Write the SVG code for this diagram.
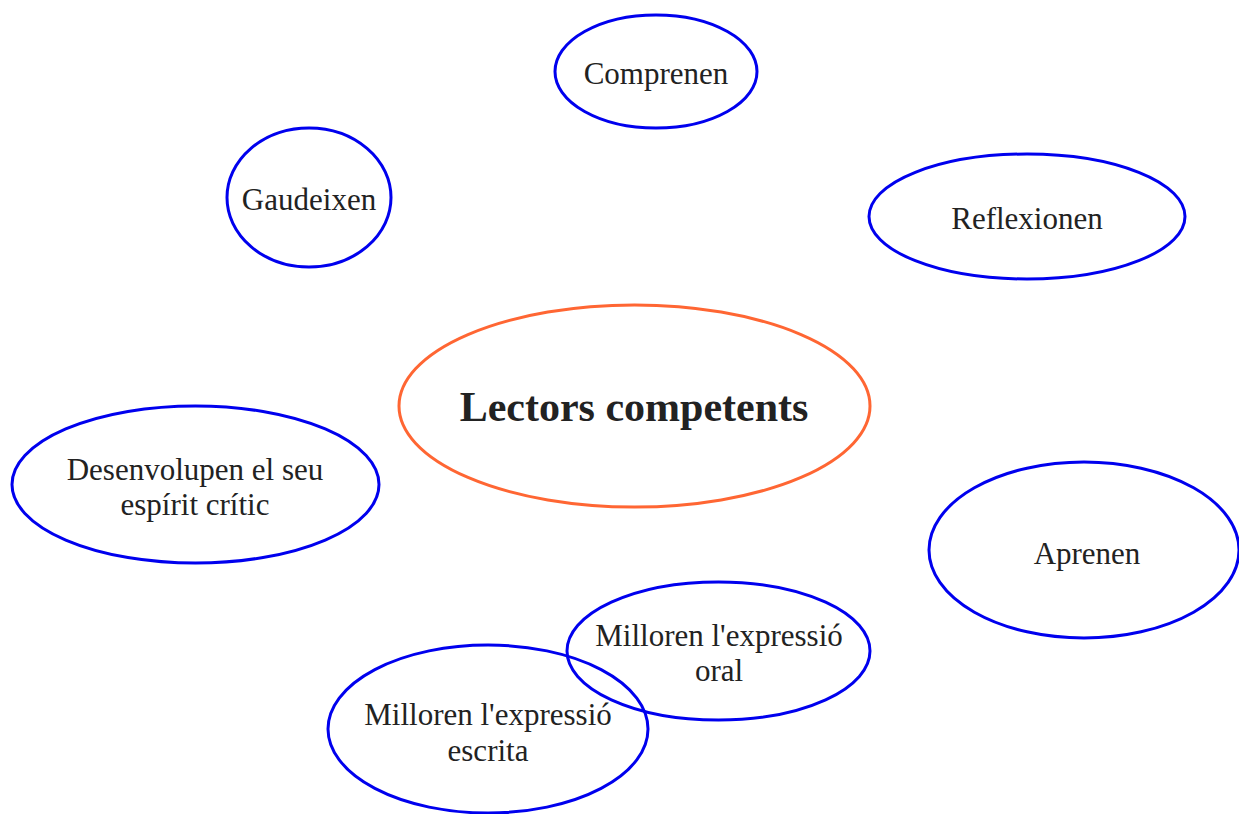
<svg xmlns="http://www.w3.org/2000/svg" width="1239" height="814" viewBox="0 0 1239 814">
<style>
.n{fill:none;stroke:#0000ee;stroke-width:3}
.c{fill:none;stroke:#ff6633;stroke-width:3}
text{font-family:"Liberation Serif","Times New Roman",serif;font-size:31px;fill:#222;text-anchor:middle}
.b{font-size:42px;font-weight:bold}
</style>
<rect width="1239" height="814" fill="#fff"/>
<g id="connectors"></g>
<g id="center"><ellipse class="c" cx="634.5" cy="406" rx="235.5" ry="101"/><text class="b" x="634" y="421">Lectors competents</text></g>
<g id="comprenen"><ellipse class="n" cx="656" cy="71.5" rx="101" ry="56.5"/><text x="656" y="84">Comprenen</text></g>
<g id="gaudeixen"><ellipse class="n" cx="309" cy="197.5" rx="82" ry="69.5"/><text x="309" y="210">Gaudeixen</text></g>
<g id="reflexionen"><ellipse class="n" cx="1027" cy="216.5" rx="158" ry="62.5"/><text x="1027" y="229">Reflexionen</text></g>
<g id="desenvolupen"><ellipse class="n" cx="195.5" cy="484.5" rx="183.5" ry="78.5"/><text x="195" y="480">Desenvolupen el seu</text><text x="195" y="515">espírit crític</text></g>
<g id="aprenen"><ellipse class="n" cx="1084" cy="550" rx="155" ry="88"/><text x="1087" y="564">Aprenen</text></g>
<g id="oral"><ellipse class="n" cx="718.5" cy="651" rx="151.5" ry="69"/><text x="719" y="646">Milloren l'expressió</text><text x="719" y="681">oral</text></g>
<g id="escrita"><ellipse class="n" cx="488" cy="729" rx="160" ry="84"/><text x="488" y="725">Milloren l'expressió</text><text x="488" y="761">escrita</text></g>
</svg>
